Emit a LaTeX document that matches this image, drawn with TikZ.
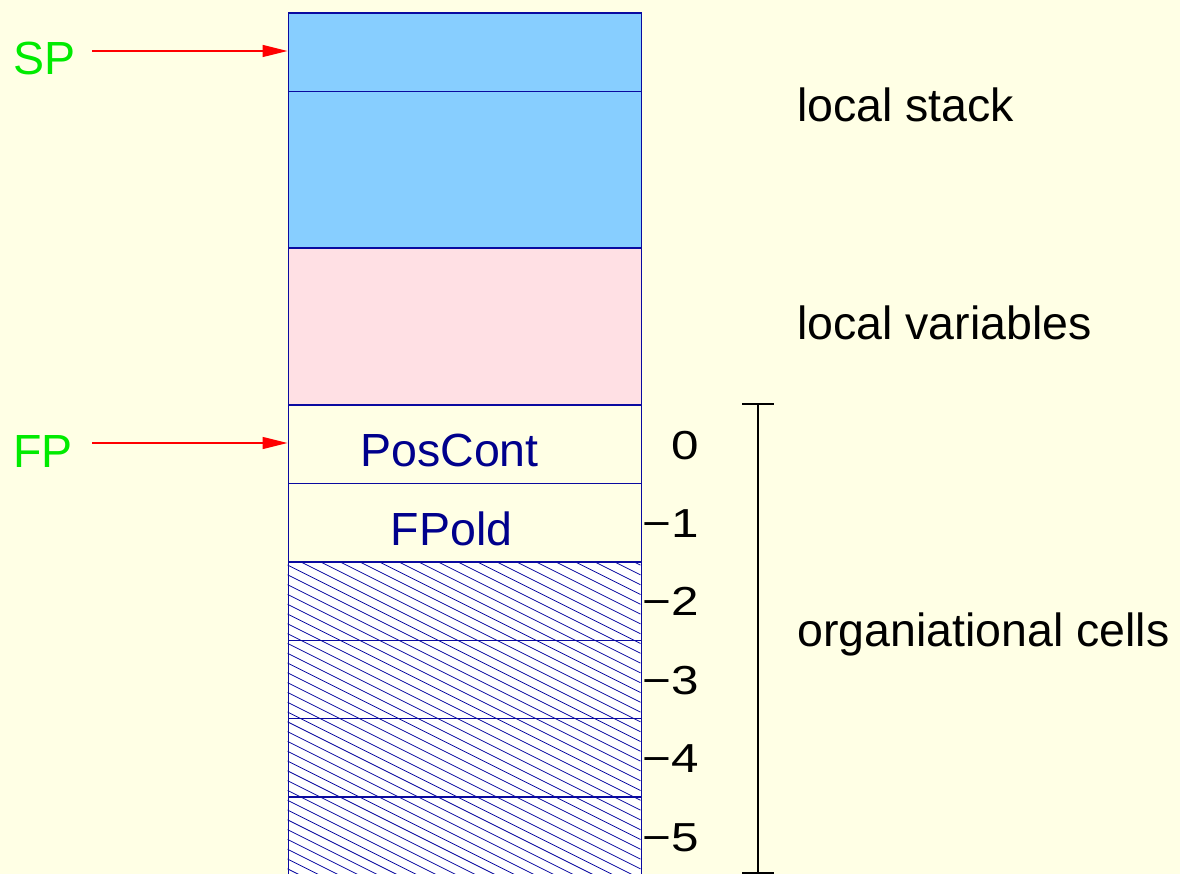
\documentclass[tikz,border=0pt]{standalone}
\usepackage{fontspec}
\usepackage{graphicx}
\setmainfont{Liberation Sans}
\usetikzlibrary{arrows.meta}
\definecolor{bgcol}{RGB}{255,255,229}
\definecolor{stackcol}{RGB}{135,206,255}
\definecolor{varcol}{RGB}{255,224,228}
\definecolor{boxcol}{RGB}{10,10,160}
\definecolor{txtcol}{RGB}{0,0,140}
\definecolor{regcol}{RGB}{0,235,0}
\tikzset{
  cell/.style={draw=boxcol, line width=1.4pt, anchor=north west, inner sep=0pt,
    minimum width=353pt, minimum height=78.4pt},
  hatchline/.style={draw=boxcol, line width=0.8pt},
  big/.style={font=\fontsize{46.5}{56}\selectfont},
  celltext/.style={big, text=txtcol, anchor=base, inner sep=0pt},
  regtext/.style={big, text=regcol, anchor=base west, inner sep=0pt},
  sidetext/.style={big, text=black, anchor=base west, inner sep=0pt},
  numtext/.style={font=\fontsize{40.5}{48}\selectfont, text=black, anchor=base east, inner sep=0pt},
  regarrow/.style={draw=red, line width=1.3pt, -{Triangle[length=25pt,width=12pt]}},
  bracketline/.style={draw=black, line width=2.2pt}
}
\newcommand{\wnum}[1]{\scalebox{1.22}[1]{#1}}
\begin{document}
\begin{tikzpicture}[x=1pt,y=-1pt]
\useasboundingbox (0,0) rectangle (1180,874);
\fill[bgcol] (0,0) rectangle (1180,874);

% hatched area background and hatching
\coordinate (hnw) at (287.5,561.1);
\coordinate (hse) at (640.5,874.7);
\fill[white] (hnw) rectangle (hse);
\begin{scope}
  \clip (hnw) rectangle (hse);
  \foreach \k in {-20,...,32}{
    \draw[hatchline] (287.5,565+9.8*\k) -- (640.5,565+9.8*\k+176.5);
  }
\end{scope}

% cells
\node[cell, fill=stackcol] (sp) at (287.5,12.3) {};
\node[cell, fill=stackcol, minimum height=156.8pt] (ls) at (287.5,90.7) {};
\node[cell, fill=varcol, minimum height=156.8pt] (lv) at (287.5,247.5) {};
\node[cell] (pc) at (287.5,404.3) {};
\node[cell] (fo) at (287.5,482.7) {};
\node[cell] (h2) at (287.5,561.1) {};
\node[cell] (h3) at (287.5,639.5) {};
\node[cell] (h4) at (287.5,717.9) {};
\node[cell] (h5) at (287.5,796.3) {};

% cell texts
\node[celltext] (tpc) at (449.5,466) {PosCont};
\node[celltext] (tfo) at (451.5,545) {FPold};

% offsets
\node[numtext] (n0) at (699,459) {\wnum{0}};
\node[numtext] (n1) at (699,537.4) {\wnum{−1}};
\node[numtext] (n2) at (699,615.8) {\wnum{−2}};
\node[numtext] (n3) at (699,694.2) {\wnum{−3}};
\node[numtext] (n4) at (699,772.6) {\wnum{−4}};
\node[numtext] (n5) at (699,851) {\wnum{−5}};

% registers
\node[regtext] (splab) at (13,75) {SP};
\node[regtext] (fplab) at (13,467) {FP};
\coordinate (spstart) at (92,51);
\coordinate (fpstart) at (92,443);
\draw[regarrow] (spstart) -- (spstart -| sp.west);
\draw[regarrow] (fpstart) -- (fpstart -| pc.west);

% side labels
\node[sidetext] (lstack) at (797,121.7) {local stack};
\node[sidetext] (lvars) at (797,339.7) {local variables};
\node[sidetext] (lorg) at (797,646.7) {organiational cells};

% bracket
\coordinate (btop) at (758,404.3);
\coordinate (bbot) at (758,873.3);
\draw[bracketline] (btop) -- (bbot);
\draw[bracketline] ([xshift=-16pt]btop) -- ([xshift=16pt]btop);
\draw[bracketline] ([xshift=-16pt]bbot) -- ([xshift=16pt]bbot);
\end{tikzpicture}
\end{document}
